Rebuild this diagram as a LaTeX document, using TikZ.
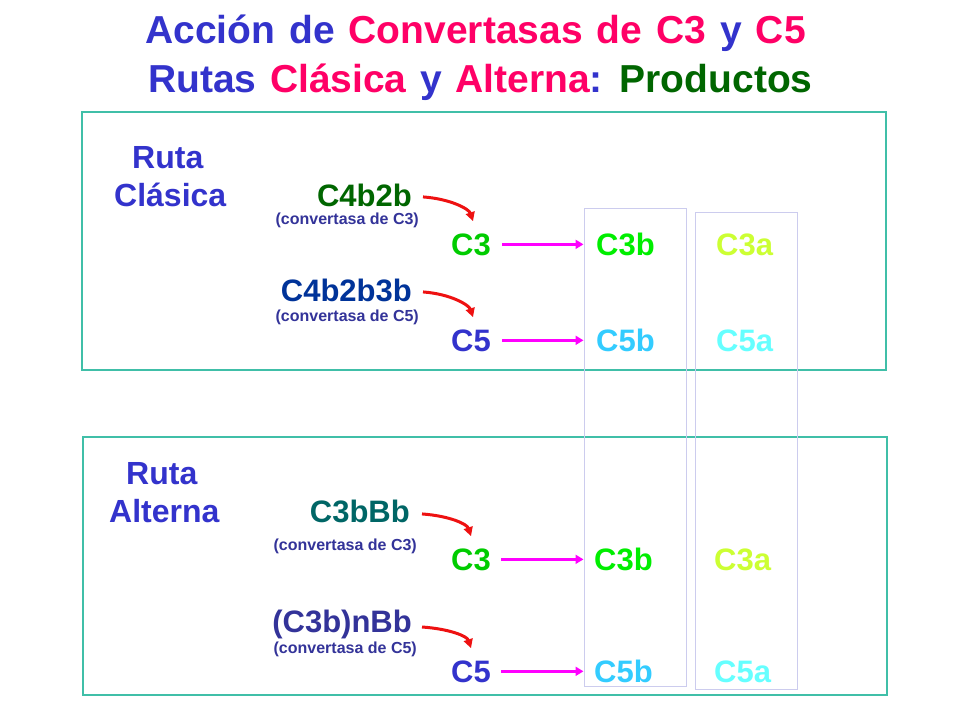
\documentclass[tikz,border=0pt]{standalone}
\usepackage{fontspec}
\setmainfont{Liberation Sans}
\usetikzlibrary{arrows.meta,fit}
\definecolor{tblue}{RGB}{51,51,204}
\definecolor{tpink}{RGB}{255,0,102}
\definecolor{tgreen}{RGB}{0,102,0}
\definecolor{navy}{RGB}{0,51,153}
\definecolor{smallblue}{RGB}{51,51,153}
\definecolor{cthree}{RGB}{0,204,0}
\definecolor{cthreeb}{RGB}{0,238,0}
\definecolor{cthreea}{RGB}{204,255,51}
\definecolor{cfiveb}{RGB}{51,204,255}
\definecolor{cfivea}{RGB}{102,255,255}
\definecolor{teal2}{RGB}{0,102,102}
\definecolor{boxline}{RGB}{64,191,168}
\definecolor{colline}{RGB}{204,204,238}
\definecolor{arrred}{RGB}{238,17,17}
\definecolor{arrmag}{RGB}{255,0,255}
\begin{document}
\begin{tikzpicture}[x=1pt,y=-1pt,
  big/.style={inner sep=0pt, font=\bfseries\fontsize{31}{37}\selectfont},
  rlabel/.style={inner sep=0pt, font=\bfseries\fontsize{32}{38}\selectfont, text=tblue, anchor=base west},
  small/.style={inner sep=0pt, font=\bfseries\fontsize{16}{19}\selectfont, text=smallblue},
  ttl/.style={inner sep=0pt, font=\bfseries\fontsize{39}{46}\selectfont, anchor=base west},
  outerbox/.style={draw=boxline, line width=1.2pt, inner sep=0pt},
  colbox/.style={draw=colline, line width=1pt, inner sep=0pt},
  conv/.style={draw=arrred, line width=3pt, -{Triangle[length=9pt,width=9pt]}},
  prod/.style={draw=arrmag, line width=3pt, -{Triangle[length=8pt,width=9pt]}}
]
\useasboundingbox (0,0) rectangle (960,720);
\fill[white] (0,0) rectangle (960,720);

% title
\node[ttl] (t1) at (145,43) {\spaceskip=14pt \textcolor{tblue}{Acción de} \textcolor{tpink}{Convertasas de C3} \textcolor{tblue}{y} \textcolor{tpink}{C5}};
\node[ttl] (t2) at (148,92) {\spaceskip=13.5pt \textcolor{tblue}{Rutas} \textcolor{tpink}{Clásica} \textcolor{tblue}{y} \textcolor{tpink}{Alterna}\textcolor{tblue}{:} \textcolor{tgreen}{Productos}};

% frames
\node[outerbox, fit={(82,112) (886,370)}] (top) {};
\node[outerbox, fit={(83,437) (887,695)}] (bot) {};
\node[colbox, fit={(584,208) (686,686)}] (col1) {};
\node[colbox, fit={(695,212) (797,689)}] (col2) {};

% classic route
\node[rlabel] (r1) at (132,168) {Ruta};
\node[rlabel] (cl) at (114,206) {Clásica};
\node[big, text=tgreen, anchor=base east] (e1) at (412,206) {C4b2b};
\node[small, anchor=base east] (s1) at (419,224) {(convertasa de C3)};
\node[big, text=cthree, anchor=base west] (a3) at (451,255) {C3};
\node[big, text=cthreeb, anchor=base west] (a3b) at (596,255) {C3b};
\node[big, text=cthreea, anchor=base west] (a3a) at (716,255) {C3a};
\node[big, text=navy, anchor=base east] (e2) at (412,301) {C4b2b3b};
\node[small, anchor=base east] (s2) at (419,321) {(convertasa de C5)};
\node[big, text=tblue, anchor=base west] (a5) at (451,351) {C5};
\node[big, text=cfiveb, anchor=base west] (a5b) at (596,351) {C5b};
\node[big, text=cfivea, anchor=base west] (a5a) at (716,351) {C5a};

% alternative route
\node[rlabel] (r2) at (126,484) {Ruta};
\node[rlabel] (al) at (109,522) {Alterna};
\node[big, text=teal2, anchor=base east] (e3) at (410,522) {C3bBb};
\node[small, anchor=base east] (s3) at (417,550) {(convertasa de C3)};
\node[big, text=cthree, anchor=base west] (b3) at (451,570) {C3};
\node[big, text=cthreeb, anchor=base west] (b3b) at (594,570) {C3b};
\node[big, text=cthreea, anchor=base west] (b3a) at (714,570) {C3a};
\node[big, text=smallblue, anchor=base east] (e4) at (412,632) {(C3b)nBb};
\node[small, anchor=base east] (s4) at (417,653) {(convertasa de C5)};
\node[big, text=tblue, anchor=base west] (b5) at (451,682) {C5};
\node[big, text=cfiveb, anchor=base west] (b5b) at (594,682) {C5b};
\node[big, text=cfivea, anchor=base west] (b5a) at (714,682) {C5a};

% convertase arrows
\draw[conv] ([xshift=11pt,yshift=-2pt]e1.east) .. controls +(28,2) and +(-4,-12) .. ([xshift=2pt,yshift=12pt]a3.north);
\draw[conv] ([xshift=11pt,yshift=-2pt]e2.east) .. controls +(28,2) and +(-4,-12) .. ([xshift=2pt,yshift=12pt]a5.north);
\draw[conv] ([xshift=12pt,yshift=-3pt]e3.east) .. controls +(28,2) and +(-4,-12) .. ([xshift=0pt,yshift=12pt]b3.north);
\draw[conv] ([xshift=10pt,yshift=-3pt]e4.east) .. controls +(28,2) and +(-4,-12) .. ([xshift=0pt,yshift=12pt]b5.north);

% product arrows
\draw[prod] ([xshift=11pt]a3.east) -- (a3.east -| col1.west);
\draw[prod] ([xshift=11pt]a5.east) -- (a5.east -| col1.west);
\draw[prod] ([xshift=10pt]b3.east) -- (b3.east -| col1.west);
\draw[prod] ([xshift=10pt]b5.east) -- (b5.east -| col1.west);
\end{tikzpicture}
\end{document}
